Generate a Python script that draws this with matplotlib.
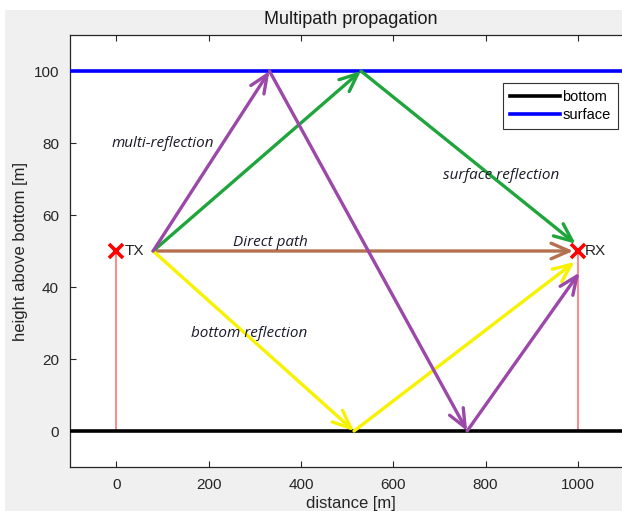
import matplotlib.pyplot as plt
from matplotlib.patches import Rectangle

# ---- data ----
x_ticks = [0, 200, 400, 600, 800, 1000]
y_ticks = [0, 20, 40, 60, 80, 100]
tx = (0, 50)
rx = (1000, 50)

direct_x = [80, 990]
direct_y = [50, 50]
surface_x = [80, 530, 995]
surface_y = [50, 100, 52]
bottom_x = [80, 515, 993]
bottom_y = [50, 0, 47]
multi_x = [80, 332, 760, 1003]
multi_y = [50, 100, 0, 44]

labels = [("multi-reflection", -10, 80), ("Direct path", 254, 52.5),
          ("surface reflection", 707, 71), ("bottom reflection", 163, 27)]

plt.rcParams['font.family'] = ['Liberation Sans', 'DejaVu Sans']

fig = plt.figure(figsize=(6.22, 5.11), dpi=100, facecolor='white')
fig.patches.append(Rectangle((5 / 622, 0), 1, 501 / 511, transform=fig.transFigure,
                             facecolor='#f0f0f0', edgecolor='none', zorder=-10))
# axes runs a little past the right edge, like the cropped original
ax = fig.add_axes([70 / 622, 44 / 511, 562 / 622, 432 / 511])

ax.plot([-100, 1200], [0, 0], color='black', lw=2.6, label='bottom', zorder=3)
ax.plot([-100, 1200], [100, 100], color='#0000ff', lw=2.6, label='surface', zorder=3)

# antenna masts
ax.plot([tx[0], tx[0]], [0, tx[1]], color='#ff7f7f', lw=1.3)
ax.plot([rx[0], rx[0]], [0, rx[1]], color='#ff7f7f', lw=1.3)


def arrows(xs, ys, color):
    for i in range(len(xs) - 1):
        ax.annotate('', xy=(xs[i + 1], ys[i + 1]), xytext=(xs[i], ys[i]),
                    arrowprops=dict(arrowstyle='->,head_length=0.65,head_width=0.28',
                                    color=color, lw=2.4, shrinkA=0, shrinkB=0,
                                    mutation_scale=20), zorder=4)


arrows(direct_x, direct_y, '#b5714f')
arrows(surface_x, surface_y, '#1fa53c')
arrows(bottom_x, bottom_y, '#f7f200')
arrows(multi_x, multi_y, '#9b48a8')

ax.plot(*tx, marker='x', color='#ff0000', ms=10, mew=2.6, zorder=6)
ax.plot(*rx, marker='x', color='#ff0000', ms=10, mew=2.6, zorder=6)
ax.text(tx[0] + 18, tx[1], 'TX', fontsize=11, va='center', color='#222222')
ax.text(rx[0] + 15, rx[1], 'RX', fontsize=11, va='center', color='#222222')

for txt, lx, ly in labels:
    ax.text(lx, ly, txt, fontsize=11, style='italic', family='Open Sans',
            va='center', color='#1a1a2a', zorder=7)

ax.set_xlim(-100, 1117)
ax.set_ylim(-10, 110)
ax.set_xticks(x_ticks)
ax.set_yticks(y_ticks)
ax.tick_params(direction='in', top=True, right=True, length=4, labelsize=11,
               colors='#262626', pad=8)
for s in ax.spines.values():
    s.set_color('#262626')
    s.set_linewidth(0.9)

ax.set_title('Multipath propagation', fontsize=13, color='#1a1a1a', pad=8)
ax.set_xlabel('distance [m]', fontsize=12, color='#262626', labelpad=3)
ax.set_ylabel('height above bottom [m]', fontsize=12, color='#262626', labelpad=4)

leg = ax.legend(loc='upper right', bbox_to_anchor=((618 - 70) / 562, (467 - 83) / 432),
                fontsize=10.5, fancybox=False, framealpha=1, edgecolor='#333333',
                handlelength=3.4, handletextpad=0.2, borderpad=0.5,
                labelspacing=0.25, borderaxespad=0)
leg.get_frame().set_linewidth(0.8)

fig.savefig('out.png', dpi=100, facecolor=fig.get_facecolor())
